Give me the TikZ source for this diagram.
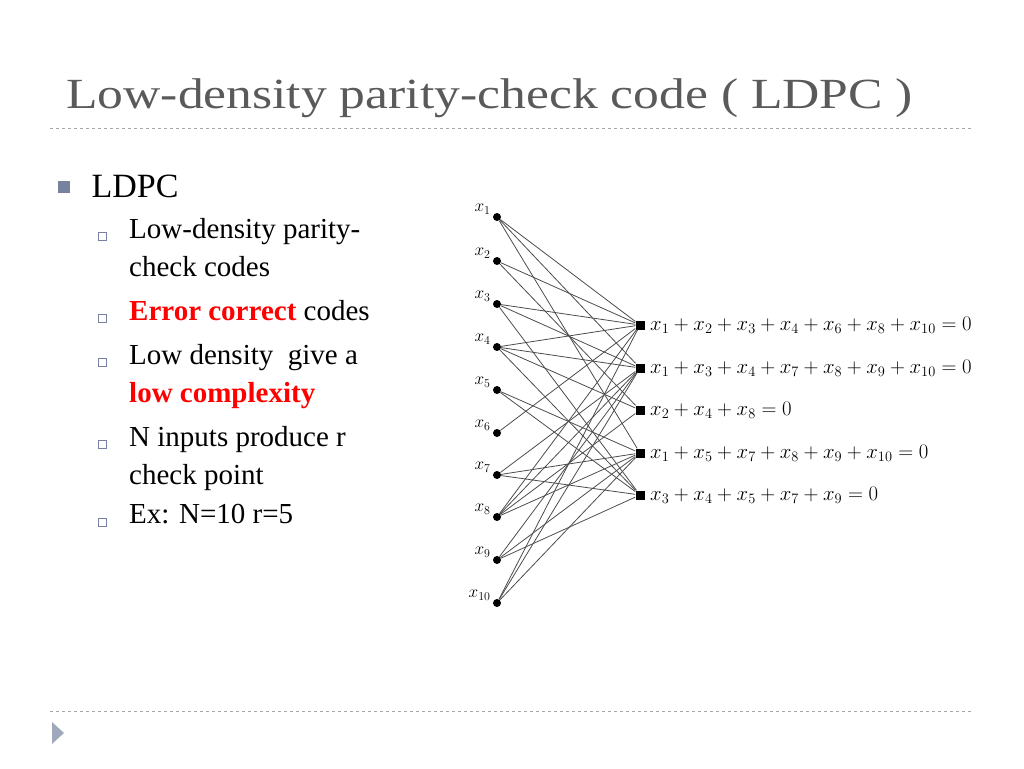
\documentclass[tikz,border=0pt]{standalone}
\usepackage{fontspec}
\setmainfont{Liberation Serif}
\usetikzlibrary{positioning}
\definecolor{titlegray}{RGB}{90,90,90}
\definecolor{bulletblue}{RGB}{120,130,160}
\tikzstyle{var}=[circle,fill=black,minimum size=8pt,inner sep=0pt]
\tikzstyle{chk}=[rectangle,fill=black,minimum size=9pt,inner sep=0pt]
\tikzstyle{edge}=[draw,black!70,line width=0.8pt]
\tikzstyle{item}=[anchor=north west,align=left,inner sep=0pt,font=\fontsize{29}{38}\selectfont]
\tikzstyle{eqn}=[font=\fontsize{20.5}{22}\selectfont]
\begin{document}
\begin{tikzpicture}[x=1pt,y=-1pt]
    \useasboundingbox (0,0) rectangle (1024,768);
    % title and rules
    \node[anchor=west,text=titlegray,xscale=1.2,font=\fontsize{43}{46}\selectfont] (title) at (62,98) {Low-density parity-check code ( LDPC )};
    \draw[dashed,black!35] (50,128) -- (972,128);
    \draw[dashed,black!35] (50,711) -- (972,711);
    \fill[bulletblue!70] (52,722) -- (64,733) -- (52,744) -- cycle;
    % bullets
    \fill[bulletblue] (58,181) rectangle (70,193);
    \node[anchor=west,font=\fontsize{34}{36}\selectfont] (ldpc) at (88,186) {LDPC};
    \foreach \y in {236,318,362,444,522}
        \draw[bulletblue] (98,\y-4) rectangle (106,\y+4);
    \node[item] (i1) at (129,218) {Low-density parity-\\check codes};
    \node[item] (i2) at (129,300) {\textcolor{red}{\textbf{Error correct}} codes};
    \node[item] (i3) at (129,344) {Low density\ \ give a\\\textcolor{red}{\textbf{low complexity}}};
    \node[item] (i4) at (129,426) {N inputs produce r\\check point};
    \node[item] (i5) at (129,504) {Ex: N=10 r=5};
    % variable nodes
    \foreach \i/\y in {1/217,2/261,3/304,4/347,5/390,6/433,7/475,8/517,9/560,10/603}
    {
        \node[var] (x\i) at (497,\y) {};
        \node[font=\fontsize{17}{18}\selectfont,above left=-4pt and 0pt of x\i] {$x_{\i}$};
    }
    % check nodes
    \foreach \j/\y in {1/325,2/368,3/410,4/453,5/495}
        \node[chk] (c\j) at (640,\y) {};
    \node[eqn,right=2pt of c1] {$x_1+x_2+x_3+x_4+x_6+x_8+x_{10}=0$};
    \node[eqn,right=2pt of c2] {$x_1+x_3+x_4+x_7+x_8+x_9+x_{10}=0$};
    \node[eqn,right=2pt of c3] {$x_2+x_4+x_8=0$};
    \node[eqn,right=2pt of c4] {$x_1+x_5+x_7+x_8+x_9+x_{10}=0$};
    \node[eqn,right=2pt of c5] {$x_3+x_4+x_5+x_7+x_9=0$};
    % edges
    \foreach \c/\vs in {1/{1,2,3,4,6,8,10}, 2/{1,3,4,7,8,9,10}, 3/{2,4,8},
                        4/{1,5,7,8,9,10}, 5/{3,4,5,7,9}}
        \foreach \v in \vs
            \path[edge] (x\v) -- (c\c);
\end{tikzpicture}
\end{document}
